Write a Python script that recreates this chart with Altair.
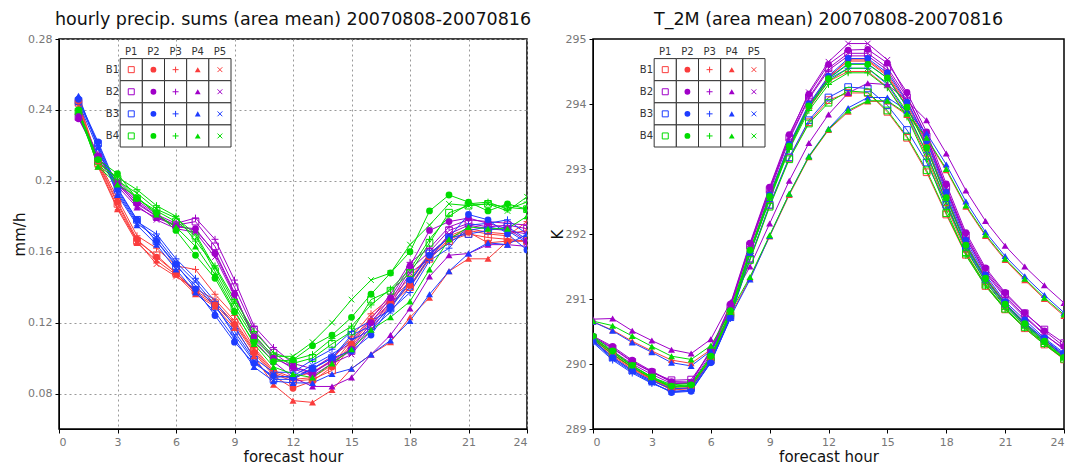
import altair as alt
import pandas as pd

# ---------------- data ----------------
groups = ["B1", "B2", "B3", "B4"]
params = ["P1", "P2", "P3", "P4", "P5"]
colors = ["#fa3c3c", "#a000c8", "#1e3cff", "#00dc00"]

hours_precip = list(range(1, 25))
hours_t2m = list(range(0, 25))

x_ticks = [0, 3, 6, 9, 12, 15, 18, 21, 24]
precip_ticks = [0.08, 0.12, 0.16, 0.2, 0.24, 0.28]
t2m_ticks = [289, 290, 291, 292, 293, 294, 295]

precip = {
    "B1P1": [0.244, 0.210, 0.187, 0.166, 0.158, 0.148, 0.138, 0.131, 0.120, 0.104, 0.091, 0.087, 0.088, 0.093, 0.107, 0.119, 0.130, 0.140, 0.156, 0.166, 0.170, 0.168, 0.167, 0.166],
    "B1P2": [0.245, 0.211, 0.188, 0.167, 0.157, 0.148, 0.137, 0.130, 0.119, 0.103, 0.090, 0.083, 0.087, 0.095, 0.108, 0.121, 0.131, 0.141, 0.157, 0.167, 0.171, 0.165, 0.166, 0.166],
    "B1P3": [0.243, 0.212, 0.190, 0.169, 0.162, 0.152, 0.150, 0.136, 0.124, 0.106, 0.093, 0.089, 0.092, 0.099, 0.112, 0.125, 0.134, 0.145, 0.159, 0.168, 0.172, 0.170, 0.169, 0.177],
    "B1P4": [0.241, 0.208, 0.184, 0.165, 0.155, 0.147, 0.136, 0.129, 0.117, 0.101, 0.085, 0.076, 0.075, 0.082, 0.094, 0.102, 0.109, 0.123, 0.134, 0.149, 0.156, 0.156, 0.166, 0.166],
    "B1P5": [0.242, 0.209, 0.185, 0.166, 0.153, 0.146, 0.139, 0.133, 0.121, 0.105, 0.092, 0.088, 0.089, 0.096, 0.110, 0.123, 0.133, 0.143, 0.158, 0.169, 0.173, 0.171, 0.170, 0.172],
    "B2P1": [0.236, 0.213, 0.199, 0.188, 0.180, 0.175, 0.177, 0.163, 0.140, 0.116, 0.103, 0.095, 0.092, 0.098, 0.104, 0.118, 0.132, 0.150, 0.160, 0.172, 0.176, 0.174, 0.175, 0.173],
    "B2P2": [0.235, 0.214, 0.198, 0.187, 0.180, 0.174, 0.173, 0.159, 0.136, 0.112, 0.100, 0.095, 0.091, 0.099, 0.105, 0.120, 0.134, 0.152, 0.172, 0.177, 0.179, 0.176, 0.173, 0.166],
    "B2P3": [0.237, 0.215, 0.200, 0.189, 0.181, 0.176, 0.179, 0.167, 0.144, 0.118, 0.106, 0.097, 0.094, 0.101, 0.109, 0.122, 0.136, 0.154, 0.162, 0.174, 0.178, 0.177, 0.176, 0.175],
    "B2P4": [0.238, 0.212, 0.197, 0.185, 0.179, 0.175, 0.172, 0.160, 0.137, 0.110, 0.098, 0.089, 0.084, 0.084, 0.089, 0.102, 0.113, 0.128, 0.146, 0.158, 0.159, 0.164, 0.164, 0.163],
    "B2P5": [0.236, 0.213, 0.199, 0.186, 0.178, 0.173, 0.171, 0.157, 0.135, 0.113, 0.101, 0.094, 0.090, 0.097, 0.102, 0.116, 0.130, 0.148, 0.156, 0.170, 0.175, 0.173, 0.172, 0.170],
    "B3P1": [0.245, 0.221, 0.195, 0.178, 0.166, 0.152, 0.141, 0.129, 0.115, 0.099, 0.088, 0.088, 0.094, 0.100, 0.113, 0.118, 0.128, 0.143, 0.159, 0.168, 0.170, 0.172, 0.174, 0.167],
    "B3P2": [0.246, 0.222, 0.196, 0.178, 0.166, 0.153, 0.139, 0.124, 0.109, 0.097, 0.090, 0.089, 0.094, 0.100, 0.104, 0.113, 0.129, 0.144, 0.158, 0.168, 0.181, 0.178, 0.170, 0.161],
    "B3P3": [0.246, 0.220, 0.194, 0.177, 0.170, 0.156, 0.145, 0.132, 0.118, 0.100, 0.092, 0.092, 0.099, 0.105, 0.115, 0.121, 0.127, 0.137, 0.155, 0.162, 0.175, 0.176, 0.178, 0.170],
    "B3P4": [0.248, 0.219, 0.192, 0.175, 0.164, 0.150, 0.137, 0.126, 0.111, 0.095, 0.087, 0.086, 0.086, 0.091, 0.094, 0.102, 0.110, 0.121, 0.136, 0.149, 0.159, 0.165, 0.164, 0.170],
    "B3P5": [0.244, 0.218, 0.193, 0.176, 0.168, 0.154, 0.143, 0.130, 0.113, 0.098, 0.089, 0.090, 0.096, 0.102, 0.110, 0.116, 0.126, 0.140, 0.157, 0.165, 0.172, 0.174, 0.172, 0.165],
    "B4P1": [0.239, 0.211, 0.201, 0.190, 0.183, 0.177, 0.169, 0.149, 0.129, 0.111, 0.100, 0.097, 0.100, 0.108, 0.115, 0.133, 0.138, 0.148, 0.165, 0.182, 0.186, 0.187, 0.185, 0.184],
    "B4P2": [0.240, 0.212, 0.204, 0.190, 0.182, 0.172, 0.158, 0.145, 0.126, 0.109, 0.098, 0.099, 0.107, 0.113, 0.123, 0.136, 0.148, 0.160, 0.183, 0.192, 0.188, 0.183, 0.187, 0.184],
    "B4P3": [0.238, 0.210, 0.202, 0.195, 0.186, 0.180, 0.166, 0.152, 0.133, 0.115, 0.103, 0.099, 0.102, 0.111, 0.118, 0.130, 0.139, 0.150, 0.167, 0.180, 0.187, 0.188, 0.184, 0.188],
    "B4P4": [0.240, 0.208, 0.198, 0.191, 0.181, 0.174, 0.163, 0.147, 0.127, 0.108, 0.095, 0.091, 0.089, 0.097, 0.105, 0.116, 0.123, 0.132, 0.150, 0.167, 0.174, 0.173, 0.173, 0.180],
    "B4P5": [0.238, 0.209, 0.200, 0.193, 0.184, 0.179, 0.170, 0.151, 0.131, 0.113, 0.101, 0.101, 0.109, 0.120, 0.133, 0.144, 0.148, 0.164, 0.175, 0.187, 0.186, 0.187, 0.183, 0.191],
}

t2m = {
    "B1P1": [290.38, 290.14, 289.94, 289.77, 289.64, 289.66, 290.07, 290.75, 291.62, 292.44, 293.17, 293.72, 294.06, 294.17, 294.17, 293.88, 293.48, 292.95, 292.30, 291.68, 291.20, 290.84, 290.55, 290.30, 290.07],
    "B1P2": [290.40, 290.16, 289.95, 289.77, 289.62, 289.64, 290.08, 290.78, 291.74, 292.60, 293.36, 293.98, 294.40, 294.68, 294.68, 294.45, 294.00, 293.38, 292.60, 291.86, 291.34, 290.94, 290.64, 290.37, 290.13],
    "B1P3": [290.36, 290.12, 289.92, 289.75, 289.60, 289.62, 290.05, 290.74, 291.70, 292.55, 293.32, 293.93, 294.35, 294.50, 294.50, 294.26, 293.82, 293.20, 292.44, 291.72, 291.22, 290.86, 290.56, 290.31, 290.08],
    "B1P4": [290.65, 290.52, 290.35, 290.20, 290.06, 290.01, 290.22, 290.75, 291.32, 291.96, 292.60, 293.18, 293.60, 293.88, 294.04, 294.04, 293.83, 293.46, 292.98, 292.42, 291.97, 291.60, 291.29, 291.00, 290.74],
    "B1P5": [290.39, 290.15, 289.94, 289.76, 289.61, 289.63, 290.07, 290.76, 291.73, 292.60, 293.36, 293.98, 294.42, 294.66, 294.66, 294.43, 293.96, 293.33, 292.55, 291.82, 291.30, 290.91, 290.61, 290.35, 290.11],
    "B2P1": [290.40, 290.24, 290.03, 289.87, 289.75, 289.76, 290.18, 290.88, 291.82, 292.68, 293.48, 294.10, 294.55, 294.78, 294.78, 294.56, 294.10, 293.50, 292.72, 291.98, 291.45, 291.08, 290.78, 290.53, 290.32],
    "B2P2": [290.43, 290.27, 290.06, 289.89, 289.73, 289.72, 290.22, 290.92, 291.86, 292.72, 293.53, 294.15, 294.61, 294.83, 294.84, 294.63, 294.18, 293.57, 292.77, 292.02, 291.48, 291.10, 290.79, 290.51, 290.27],
    "B2P3": [290.38, 290.20, 290.00, 289.84, 289.70, 289.70, 290.15, 290.86, 291.80, 292.65, 293.45, 294.08, 294.52, 294.74, 294.74, 294.52, 294.05, 293.45, 292.68, 291.94, 291.40, 291.02, 290.72, 290.45, 290.24],
    "B2P4": [290.69, 290.70, 290.51, 290.36, 290.22, 290.16, 290.38, 290.95, 291.50, 292.16, 292.82, 293.40, 293.84, 294.17, 294.32, 294.30, 294.05, 293.75, 293.24, 292.67, 292.20, 291.82, 291.50, 291.21, 290.94],
    "B2P5": [290.42, 290.25, 290.04, 289.88, 289.72, 289.72, 290.20, 290.90, 291.84, 292.70, 293.50, 294.18, 294.65, 294.93, 294.93, 294.68, 294.12, 293.50, 292.70, 291.95, 291.42, 291.05, 290.74, 290.46, 290.22],
    "B3P1": [290.36, 290.10, 289.90, 289.74, 289.62, 289.63, 290.05, 290.72, 291.62, 292.45, 293.18, 293.75, 294.10, 294.26, 294.24, 293.98, 293.60, 293.10, 292.45, 291.80, 291.30, 290.93, 290.62, 290.38, 290.13],
    "B3P2": [290.37, 290.10, 289.90, 289.72, 289.56, 289.58, 290.02, 290.72, 291.72, 292.60, 293.38, 294.00, 294.43, 294.70, 294.70, 294.48, 294.03, 293.43, 292.64, 291.90, 291.37, 290.96, 290.68, 290.40, 290.17],
    "B3P3": [290.33, 290.06, 289.86, 289.70, 289.58, 289.60, 290.02, 290.70, 291.70, 292.55, 293.32, 293.95, 294.38, 294.55, 294.55, 294.30, 293.85, 293.25, 292.50, 291.78, 291.27, 290.90, 290.60, 290.35, 290.12],
    "B3P4": [290.65, 290.51, 290.33, 290.18, 290.02, 289.97, 290.20, 290.72, 291.30, 291.97, 292.62, 293.20, 293.62, 293.94, 294.10, 294.10, 293.90, 293.55, 293.07, 292.50, 292.03, 291.66, 291.35, 291.06, 290.79],
    "B3P5": [290.35, 290.08, 289.88, 289.71, 289.57, 289.59, 290.03, 290.71, 291.71, 292.58, 293.35, 293.98, 294.40, 294.62, 294.62, 294.40, 293.95, 293.35, 292.58, 291.85, 291.32, 290.93, 290.64, 290.38, 290.15],
    "B4P1": [290.40, 290.18, 289.97, 289.80, 289.68, 289.70, 290.10, 290.78, 291.60, 292.42, 293.15, 293.70, 294.02, 294.20, 294.18, 293.90, 293.50, 292.98, 292.32, 291.70, 291.22, 290.85, 290.57, 290.32, 290.08],
    "B4P2": [290.43, 290.20, 289.98, 289.80, 289.66, 289.68, 290.12, 290.82, 291.75, 292.58, 293.35, 293.97, 294.39, 294.61, 294.61, 294.40, 293.95, 293.33, 292.56, 291.83, 291.32, 290.92, 290.62, 290.35, 290.10],
    "B4P3": [290.38, 290.15, 289.95, 289.78, 289.64, 289.66, 290.08, 290.78, 291.70, 292.52, 293.30, 293.90, 294.30, 294.48, 294.48, 294.25, 293.80, 293.15, 292.38, 291.67, 291.20, 290.84, 290.55, 290.30, 290.08],
    "B4P4": [290.66, 290.59, 290.43, 290.27, 290.12, 290.07, 290.28, 290.80, 291.34, 291.98, 292.62, 293.19, 293.61, 293.90, 294.05, 294.05, 293.85, 293.48, 293.00, 292.44, 291.99, 291.62, 291.31, 291.02, 290.76],
    "B4P5": [290.41, 290.18, 289.97, 289.79, 289.65, 289.67, 290.10, 290.80, 291.72, 292.55, 293.33, 293.95, 294.35, 294.55, 294.55, 294.32, 293.88, 293.25, 292.48, 291.76, 291.26, 290.88, 290.59, 290.33, 290.09],
}


def to_long(d, hours):
    rows = []
    for key, vals in d.items():
        for h, v in zip(hours, vals):
            rows.append({"series": key, "B": key[:2], "P": key[2:], "hour": h, "value": v})
    return pd.DataFrame(rows)


df_p = to_long(precip, hours_precip)
df_t = to_long(t2m, hours_t2m)

FONT = "DejaVu Sans"
cross_path = "M-1,0L1,0M0,-1L0,1"
x_path = "M-0.8,-0.8L0.8,0.8M-0.8,0.8L0.8,-0.8"
shape_range = ["square", "circle", cross_path, "triangle-up", x_path]

color_enc = alt.Color("B:N", scale=alt.Scale(domain=groups, range=colors), legend=None)
shape_enc = alt.Shape("P:N", scale=alt.Scale(domain=params, range=shape_range), legend=None)


def legend_layers(x_range, y_range):
    cells = pd.DataFrame([{"B": b, "P": p} for b in groups for p in params])
    hdr = pd.DataFrame([{"B": "hdr", "P": p, "label": p} for p in params])
    rowl = pd.DataFrame([{"B": b, "P": "lbl", "label": b} for b in groups])
    xs = alt.X("P:N", scale=alt.Scale(type="band", domain=["lbl"] + params, range=x_range,
                                       paddingInner=0, paddingOuter=0), axis=None)
    ys = alt.Y("B:N", scale=alt.Scale(type="band", domain=["hdr"] + groups, range=y_range,
                                       paddingInner=0, paddingOuter=0), axis=None)
    rect = alt.Chart(cells).mark_rect(fill="white", stroke="#333333", strokeWidth=1).encode(x=xs, y=ys)
    sym_open = alt.Chart(cells).transform_filter(
        alt.FieldOneOfPredicate(field="P", oneOf=["P1", "P3", "P5"])
    ).mark_point(filled=False, strokeWidth=1, opacity=1).encode(
        x=xs, y=ys, color=color_enc, shape=shape_enc, size=alt.value(36))
    sym_fill = alt.Chart(cells).transform_filter(
        alt.FieldOneOfPredicate(field="P", oneOf=["P2", "P4"])
    ).mark_point(filled=True, opacity=1).encode(
        x=xs, y=ys, color=color_enc, shape=shape_enc, size=alt.value(34))
    t_hdr = alt.Chart(hdr).mark_text(font=FONT, fontSize=10, color="#333333", dy=4).encode(
        x=xs, y=ys, text="label:N")
    t_row = alt.Chart(rowl).mark_text(font=FONT, fontSize=10, color="#333333", align="right", dx=10).encode(
        x=xs, y=ys, text="label:N")
    return alt.layer(rect, sym_open, sym_fill, t_hdr, t_row)


def panel(df, title, ytitle, ydomain, yticks, grid, width, height, yfmt, title_offset):
    xenc = alt.X("hour:Q", scale=alt.Scale(domain=[0, 24], nice=False, zero=False),
                 axis=alt.Axis(values=x_ticks, title="forecast hour", grid=grid, titlePadding=2,
                               gridDash=[2, 3], gridColor="#999999", gridWidth=1))
    yenc = alt.Y("value:Q", scale=alt.Scale(domain=ydomain, nice=False, zero=False),
                 axis=alt.Axis(values=yticks, title=ytitle, grid=grid, format=yfmt, titlePadding=0,
                               gridDash=[2, 3], gridColor="#999999", gridWidth=1))
    base = alt.Chart(df)
    lines = base.mark_line(strokeWidth=1, clip=True).encode(
        x=xenc, y=yenc, color=color_enc, detail="series:N")
    size_enc = alt.Size("P:N", scale=alt.Scale(domain=params, range=[45, 50, 70, 45, 45]), legend=None)
    pts_open = base.transform_filter(
        alt.FieldOneOfPredicate(field="P", oneOf=["P1", "P3", "P5"])
    ).mark_point(filled=False, strokeWidth=1, opacity=1, clip=True).encode(
        x=xenc, y=yenc, color=color_enc, shape=shape_enc, size=size_enc)
    pts_fill = base.transform_filter(
        alt.FieldOneOfPredicate(field="P", oneOf=["P2", "P4"])
    ).mark_point(filled=True, opacity=1, clip=True).encode(
        x=xenc, y=yenc, color=color_enc, shape=shape_enc, size=size_enc)
    data_layer = alt.layer(lines, pts_open, pts_fill)
    leg = legend_layers([39, 172], [-2.5, 108])
    return alt.layer(data_layer, leg).resolve_scale(x="independent", y="independent").properties(
        width=width, height=height,
        title=alt.TitleParams(title, font=FONT, fontSize=17.5, fontWeight="normal", color="#111111",
                              offset=title_offset, frame="group", anchor="middle"),
    )


left = panel(df_p, "hourly precip. sums (area mean) 20070808-20070816", "mm/h",
             [0.06, 0.28], precip_ticks, True, 468, 390, "~g", 5)
right = panel(df_t, "T_2M (area mean) 20070808-20070816", "K",
              [289, 295], t2m_ticks, False, 471, 390, "d", 5)

chart = alt.hconcat(left, right, spacing=17).configure(
    padding={"left": 3, "top": 1, "right": 0, "bottom": 0}
).configure_view(
    stroke="black", strokeWidth=1.5
).configure_axis(
    labelFont=FONT, labelFontSize=11, labelColor="#777777",
    titleFont=FONT, titleFontSize=15, titleFontWeight="normal", titleColor="#111111",
    domainColor="black", tickColor="black", tickSize=4, labelPadding=3,
)

chart.save("out.html", embed_options={"renderer": "svg", "actions": False})
